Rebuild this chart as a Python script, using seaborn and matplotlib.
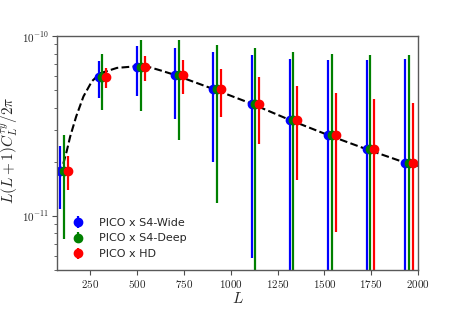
import numpy as np
import pandas as pd
import matplotlib
matplotlib.use('Agg')
import matplotlib.pyplot as plt
import seaborn as sns
from matplotlib.ticker import FixedLocator, FuncFormatter, LogLocator, NullFormatter

sns.set_style('ticks')
plt.rcParams['font.family'] = ['DejaVu Sans']
plt.rcParams['mathtext.fontset'] = 'cm'

# bin centres (first experiment); the other two are shifted a bit for readability
L_bins = [90, 295, 500, 703, 907, 1111, 1315, 1519, 1725, 1930]
offsets = [0, 20, 41]

# binned signal (same for all three)
C_bins = [1.78e-11, 5.90e-11, 6.71e-11, 6.06e-11, 5.08e-11,
          4.21e-11, 3.42e-11, 2.82e-11, 2.35e-11, 1.98e-11]

# 1-sigma errors
err_wide = [0.68e-11, 1.36e-11, 2.05e-11, 2.58e-11, 3.09e-11,
            3.63e-11, 4.09e-11, 4.59e-11, 5.06e-11, 5.53e-11]
err_deep = [1.04e-11, 2.02e-11, 2.87e-11, 3.42e-11, 3.90e-11,
            4.33e-11, 4.72e-11, 5.16e-11, 5.48e-11, 5.85e-11]
err_hd = [0.38e-11, 0.75e-11, 1.06e-11, 1.28e-11, 1.52e-11,
          1.70e-11, 1.84e-11, 2.01e-11, 2.14e-11, 2.27e-11]

labels = ['PICO x S4-Wide', 'PICO x S4-Deep', 'PICO x HD']
colors = ['blue', 'green', 'red']

# theory curve
L_th = [92, 100, 112, 125, 143, 175, 214, 259, 304, 393, 482, 571, 625,
        703, 907, 1111, 1315, 1519, 1725, 1930, 2000]
C_th = [1.70e-11, 1.85e-11, 2.05e-11, 2.30e-11, 2.76e-11, 3.57e-11, 4.62e-11,
        5.61e-11, 6.22e-11, 6.66e-11, 6.78e-11, 6.70e-11, 6.45e-11,
        6.08e-11, 5.08e-11, 4.21e-11, 3.42e-11, 2.82e-11, 2.35e-11,
        1.98e-11, 1.90e-11]

fig = plt.figure(figsize=(4.63, 3.09), dpi=100)
ax = fig.add_axes([0.124, 0.126, 0.779, 0.757])

theory = pd.DataFrame({'L': L_th, 'C': C_th})
sns.lineplot(data=theory, x='L', y='C', ax=ax, color='black',
             linestyle='--', linewidth=1.5, zorder=1)

for errs, off, lab, col in zip([err_wide, err_deep, err_hd], offsets, labels, colors):
    x = np.array(L_bins) + off
    ax.errorbar(x, C_bins, yerr=errs, fmt='o', color=col, ecolor=col,
                markersize=6, elinewidth=1.6, capsize=0, label=lab, zorder=2)

ax.set_yscale('log')
ax.set_xlim(75, 2000)
ax.set_ylim(5e-12, 1e-10)

ax.xaxis.set_major_locator(FixedLocator([250, 500, 750, 1000, 1250, 1500, 1750, 2000]))
ax.xaxis.set_major_formatter(FuncFormatter(lambda v, p: r'$%d$' % v))
ax.yaxis.set_major_locator(FixedLocator([1e-11, 1e-10]))
ax.yaxis.set_major_formatter(FuncFormatter(lambda v, p: r'$10^{%d}$' % round(np.log10(v))))
ax.yaxis.set_minor_locator(LogLocator(base=10, subs=np.arange(2, 10)))
ax.yaxis.set_minor_formatter(NullFormatter())

ax.tick_params(axis='both', which='major', labelsize=8, length=3.5, width=0.8,
               color='0.3', pad=2.5)
ax.tick_params(axis='y', which='minor', length=2, width=0.6, color='0.3')
for s in ax.spines.values():
    s.set_color('0.35')
    s.set_linewidth(1.0)

ax.set_xlabel(r'$L$', fontsize=11)
ax.set_ylabel(r'$L(L+1)C_L^{\tau y}/2\pi$', fontsize=11)
ax.xaxis.set_label_coords(0.5, -0.088)
ax.yaxis.set_label_coords(-0.103, 0.51)

ax.legend(loc='lower left', frameon=False, fontsize=8, handletextpad=0.9,
          borderaxespad=0.6, labelspacing=0.5, bbox_to_anchor=(-0.005, 0.0))

fig.savefig('out.png', dpi=100)
